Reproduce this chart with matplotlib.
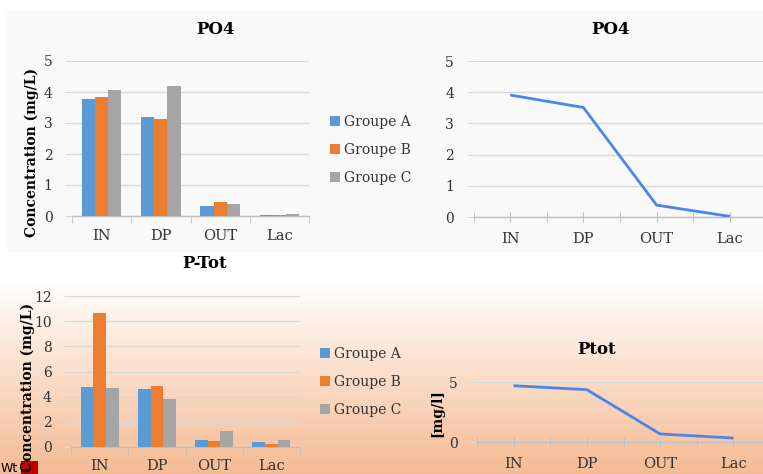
import numpy as np
import matplotlib
matplotlib.use("Agg")
import matplotlib.pyplot as plt
from matplotlib.patches import Rectangle

# ---------------- data ----------------
categories = ["IN", "DP", "OUT", "Lac"]
groups = ["Groupe A", "Groupe B", "Groupe C"]

po4_groupe_a = [3.79, 3.19, 0.31, 0.02]
po4_groupe_b = [3.84, 3.14, 0.45, 0.03]
po4_groupe_c = [4.05, 4.19, 0.39, 0.06]
po4_mean = [3.91, 3.51, 0.38, 0.02]

ptot_groupe_a = [4.77, 4.64, 0.53, 0.40]
ptot_groupe_b = [10.68, 4.82, 0.45, 0.24]
ptot_groupe_c = [4.72, 3.81, 1.27, 0.56]
ptot_mean = [4.69, 4.36, 0.67, 0.33]

po4_yticks = [0, 1, 2, 3, 4, 5]
ptot_bar_yticks = [0, 2, 4, 6, 8, 10, 12]
ptot_line_yticks = [0, 5]

bar_colors = ["#5B9BD5", "#ED7D31", "#A5A5A5"]
line_color = "#4A86E8"

W, H = 763, 474
fig = plt.figure(figsize=(W / 100, H / 100), dpi=100)
fig.patch.set_facecolor("white")

SERIF = "DejaVu Serif"
TXT = "#333333"

# ---------------- background ----------------
bg = fig.add_axes([0, 0, 1, 1], zorder=-10)
bg.set_xlim(0, W)
bg.set_ylim(H, 0)
bg.axis("off")
bg.add_patch(Rectangle((7, 11), W - 7, 241, facecolor="#f9f9f9", edgecolor="none"))
g0, g1 = 280, H
t = np.linspace(0, 1, 256)[:, None]
top = np.array([255, 255, 255]) / 255
bot = np.array([245, 187, 148]) / 255
grad = top[None, None, :] * (1 - t[..., None]) + bot[None, None, :] * t[..., None]
grad = np.repeat(grad, 2, axis=1)
bg.imshow(grad, extent=(0, W, g1, g0), aspect="auto", interpolation="bilinear")
bg.add_patch(Rectangle((21, 461), 17, 13, facecolor="#c00000", edgecolor="none"))
bg.text(1, 468, "Wt", fontsize=9, family="DejaVu Sans", color="black", va="center", ha="left")


def px_axes(l, t_, r, b):
    return fig.add_axes([l / W, 1 - b / H, (r - l) / W, (b - t_) / H])


def style_common(ax, yticks):
    ax.set_facecolor("none")
    for s in ["top", "right", "left"]:
        ax.spines[s].set_visible(False)
    ax.spines["bottom"].set_color("#bfbfbf")
    ax.spines["bottom"].set_linewidth(1.0)
    ax.set_yticks(yticks)
    ax.set_ylim(yticks[0], yticks[-1])
    ax.grid(axis="y", color="#d9d9d9", linewidth=1.0)
    ax.set_axisbelow(True)
    ax.tick_params(axis="y", length=5, color="#d9d9d9", pad=9, labelsize=10,
                   labelcolor=TXT)
    for lab in ax.get_yticklabels():
        lab.set_family(SERIF)
    ax.set_xlim(-0.5, len(categories) - 0.5)


def bar_chart(ax, series, yticks):
    x = np.arange(len(categories))
    w = 0.222
    handles = []
    for i, (vals, c, lab) in enumerate(zip(series, bar_colors, groups)):
        h = ax.bar(x + (i - 1) * w, vals, width=w, color=c, label=lab, zorder=3)
        handles.append(h)
    style_common(ax, yticks)
    ax.set_xticks(x)
    ax.set_xticklabels(categories, family=SERIF, fontsize=10.5, color=TXT)
    ax.set_xticks(np.arange(-0.5, len(categories), 1.0), minor=True)
    ax.tick_params(axis="x", which="major", length=0, pad=9)
    ax.tick_params(axis="x", which="minor", length=5, color="#bfbfbf", direction="out")
    return handles


def line_chart(ax, vals, yticks):
    x = np.arange(len(categories))
    ax.plot(x, vals, color=line_color, linewidth=2.0, zorder=3, solid_capstyle="butt")
    style_common(ax, yticks)
    ax.set_xticks(x)
    ax.set_xticklabels(categories, family=SERIF, fontsize=10.5, color=TXT)
    ax.set_xticks(np.arange(-0.5, len(categories), 1.0), minor=True)
    ax.tick_params(axis="x", which="major", length=7, color="#bfbfbf",
                   direction="inout", pad=7)
    ax.tick_params(axis="x", which="minor", length=7, color="#bfbfbf", direction="inout")


# ---------------- top-left: PO4 bars ----------------
ax1 = px_axes(72, 61, 309, 216)
h1 = bar_chart(ax1, [po4_groupe_a, po4_groupe_b, po4_groupe_c], po4_yticks)
fig.text(215 / W, 1 - 30 / H, "PO4", family=SERIF, fontweight="bold", fontsize=12,
         ha="center", va="center")
fig.text(32 / W, 1 - 152 / H, "Concentration (mg/L)", family=SERIF, fontweight="bold",
         fontsize=10, rotation=90, ha="center", va="center")
ax1.legend(handles=h1, loc="center left", bbox_to_anchor=(330 / W, 1 - 150 / H),
           bbox_transform=fig.transFigure, frameon=False, prop={"family": SERIF, "size": 10},
           handlelength=0.72, handleheight=0.72, handletextpad=0.3, labelspacing=1.0,
           borderpad=0, borderaxespad=0, labelcolor=TXT)

# ---------------- top-right: PO4 line ----------------
ax2 = px_axes(473.5, 61, 766.5, 217)
line_chart(ax2, po4_mean, po4_yticks)
fig.text(610 / W, 1 - 30 / H, "PO4", family=SERIF, fontweight="bold", fontsize=12,
         ha="center", va="center")

# ---------------- bottom-left: P-Tot bars ----------------
ax3 = px_axes(71, 296, 300, 447)
h3 = bar_chart(ax3, [ptot_groupe_a, ptot_groupe_b, ptot_groupe_c], ptot_bar_yticks)
fig.text(205 / W, 1 - 263 / H, "P-Tot", family=SERIF, fontweight="bold", fontsize=12,
         ha="center", va="center")
fig.text(28 / W, 1 - 387 / H, "Concentration (mg/L)", family=SERIF, fontweight="bold",
         fontsize=10, rotation=90, ha="center", va="center")
ax3.legend(handles=h3, loc="center left", bbox_to_anchor=(320 / W, 1 - 382 / H),
           bbox_transform=fig.transFigure, frameon=False, prop={"family": SERIF, "size": 10},
           handlelength=0.72, handleheight=0.72, handletextpad=0.3, labelspacing=1.0,
           borderpad=0, borderaxespad=0, labelcolor=TXT)

# ---------------- bottom-right: Ptot line ----------------
ax4 = px_axes(477, 382, 770, 442)
line_chart(ax4, ptot_mean, ptot_line_yticks)
fig.text(597 / W, 1 - 350 / H, "Ptot", family=SERIF, fontweight="bold", fontsize=12,
         ha="center", va="center")
fig.text(437 / W, 1 - 413 / H, "[mg/l]", family=SERIF, fontweight="bold",
         fontsize=10, rotation=90, ha="center", va="center")

fig.savefig("out.png", dpi=100)
